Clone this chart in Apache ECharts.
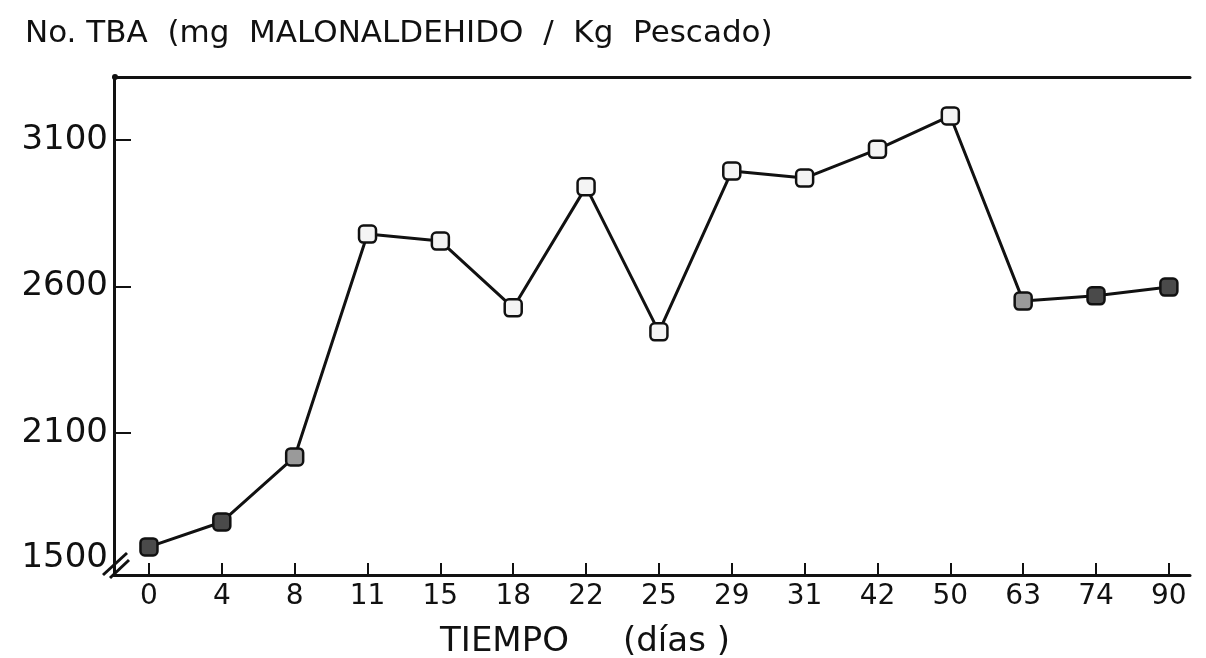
<!DOCTYPE html>
<html>
<head>
<meta charset="UTF-8">
<title>No. TBA</title>
<script src="https://cdn.jsdelivr.net/npm/echarts@6.0.0/dist/echarts.min.js"></script>
<style>
  html, body { margin: 0; padding: 0; background: #fff; }
  #container { width: 1206px; height: 658px; }
</style>
</head>
<body>
<div id="container"></div>
<script>
// dias de almacenamiento (eje x, espaciado uniforme)
var categories = ['0', '4', '8', '11', '15', '18', '22', '25', '29', '31', '42', '50', '63', '74', '90'];
// No. TBA
var tbaValues = [1711, 1796, 2018, 2779, 2755, 2527, 2940, 2445, 2994, 2970, 3068, 3182, 2550, 2568, 2598];
// eje y cortado: el fondo del eje se rotula 1500
var yTickValues = [2100, 2600, 3100];
var yBaseValue = 1615;
var yBaseLabel = '1500';
var yTop = 3315;

var font = 'DejaVu Sans';

var dom = document.getElementById('container');
var myChart = echarts.init(dom);

var option = {
    backgroundColor: '#fff',
    animation: false,
    title: {
        text: 'No. TBA  (mg  MALONALDEHIDO  /  Kg  Pescado)',
        left: 20,
        top: 13,
        textStyle: { fontFamily: font, fontSize: 31, fontWeight: 'normal', color: '#111' }
    },
    grid: { left: 114, right: 16, top: 77, bottom: 83, outerBoundsMode: 'none' },
    xAxis: [
        {
            type: 'value',
            min: -0.48,
            max: 14.29,
            position: 'bottom',
            name: 'TIEMPO     (días )',
            nameLocation: 'middle',
            nameGap: 50,
            nameTextStyle: { fontFamily: font, fontSize: 34, color: '#111', padding: [0, 134, 0, 0] },
            axisLine: { show: true, onZero: false, lineStyle: { color: '#111', width: 3 } },
            axisTick: {
                show: true, inside: true, length: 12,
                customValues: categories.map(function (c, i) { return i; }),
                lineStyle: { color: '#111', width: 2 }
            },
            axisLabel: {
                customValues: categories.map(function (c, i) { return i; }),
                margin: 8,
                fontFamily: font, fontSize: 28, color: '#111',
                formatter: function (v) { return categories[Math.round(v)]; }
            },
            splitLine: { show: false }
        },
        {
            type: 'value',
            min: -0.48,
            max: 14.29,
            position: 'top',
            axisLine: { show: true, onZero: false, lineStyle: { color: '#111', width: 3 } },
            axisTick: { show: false },
            axisLabel: { show: false },
            splitLine: { show: false }
        }
    ],
    yAxis: {
        type: 'value',
        min: yBaseValue,
        max: yTop,
        axisLine: { show: true, onZero: false, lineStyle: { color: '#111', width: 3 } },
        axisTick: {
            show: true, inside: true, length: 17,
            customValues: yTickValues,
            lineStyle: { color: '#111', width: 2 }
        },
        axisLabel: {
            customValues: [yBaseValue].concat(yTickValues),
            margin: 6,
            fontFamily: font, fontSize: 34, color: '#111',
            formatter: function (v) {
                return v === yBaseValue ? '{lo|' + yBaseLabel + '}' : String(v);
            },
            rich: {
                lo: { fontFamily: font, fontSize: 34, color: '#111', padding: [0, 0, 34, 0] }
            }
        },
        splitLine: { show: false }
    },
    graphic: [
        { type: 'circle', shape: { cx: 115, cy: 77, r: 3 }, style: { fill: '#111' } },
        { type: 'line', shape: { x1: 103, y1: 575, x2: 127, y2: 553 }, style: { stroke: '#111', lineWidth: 3 } },
        { type: 'line', shape: { x1: 110, y1: 578, x2: 129, y2: 560 }, style: { stroke: '#111', lineWidth: 3 } }
    ],
    series: [
        {
            name: 'No. TBA',
            type: 'line',
            data: tbaValues.map(function (v, i) { return [i, v]; }),
            symbol: 'roundRect',
            symbolSize: 17,
            lineStyle: { color: '#111', width: 3 },
            itemStyle: {
                borderColor: '#111',
                borderWidth: 2.5,
                color: function (p) {
                    var i = p.dataIndex;
                    if (i <= 1 || i >= 13) return '#4a4a4a';
                    if (i === 2 || i === 12) return '#9a9a9a';
                    return '#f4f4f4';
                }
            },
            z: 3
        }
    ]
};

if (option && typeof option === 'object') {
    myChart.setOption(option, true);
}
</script>
</body>
</html>
